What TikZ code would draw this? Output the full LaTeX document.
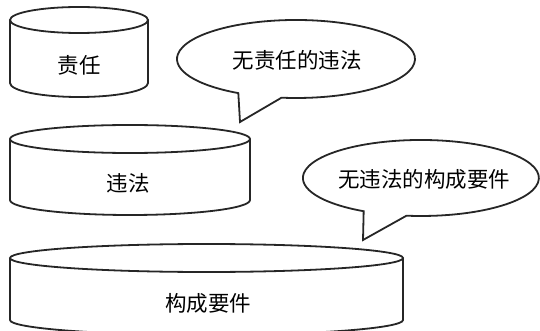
\documentclass[tikz,border=0pt]{standalone}
\usepackage{fontspec}
\setmainfont{Noto Sans CJK SC}
\begin{document}
\begin{tikzpicture}[x=1pt,y=-1pt,
  shapeline/.style={draw=black!85,line width=1.8pt,fill=white,line join=miter},
  lbl/.style={font=\fontsize{21.5}{24}\selectfont,inner sep=0pt}]
\useasboundingbox (0,0) rectangle (540,331);
\clip (0,0) rectangle (540,331);
% cylinder 1
\draw[shapeline] (10,20) -- (10,83) arc[start angle=180,end angle=0,x radius=69,y radius=14] -- (148,20);
\draw[shapeline] (79,20) ellipse[x radius=69,y radius=13];
\node[lbl] (zeren) at (79,65) {责任};
% cylinder 2
\draw[shapeline] (10,139) -- (10,200) arc[start angle=180,end angle=0,x radius=120,y radius=15] -- (250,139);
\draw[shapeline] (130,139) ellipse[x radius=120,y radius=14];
\node[lbl] (weifa) at (128,183) {违法};
% cylinder 3
\draw[shapeline] (10,258) -- (10,320) arc[start angle=180,end angle=0,x radius=196.5,y radius=15] -- (403,258);
\draw[shapeline] (206.5,258) ellipse[x radius=196.5,y radius=14];
\node[lbl] (goucheng) at (208,303) {构成要件};
% callout 1
\draw[shapeline] (281.5,97.7) arc[start angle=97,end angle=-241,x radius=119,y radius=39]
  -- (240,122) -- cycle;
\node[lbl] (call1) at (297,60) {无责任的违法};
% callout 2
\draw[shapeline] (406.5,215.7) arc[start angle=97,end angle=-241,x radius=118,y radius=38]
  -- (363,240) -- cycle;
\node[lbl] (call2) at (424,179) {无违法的构成要件};
\end{tikzpicture}
\end{document}
